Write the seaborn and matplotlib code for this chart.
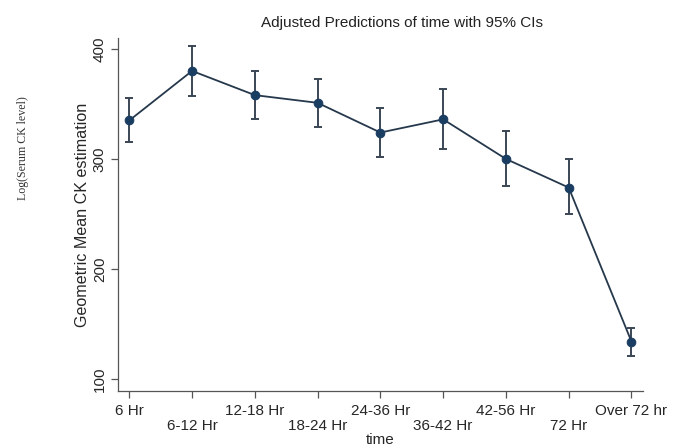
import numpy as np
import pandas as pd
import matplotlib
matplotlib.use("Agg")
import matplotlib.pyplot as plt
import seaborn as sns

sns.set_theme(style="white")
plt.rcParams.update(
    {
        "font.family": ["Liberation Sans", "DejaVu Sans"],
        "axes.spines.top": False,
        "axes.spines.right": False,
    }
)

# ── Data ──────────────────────────────────────────────────────────────────────
times = ["6 Hr", "6-12 Hr", "12-18 Hr", "18-24 Hr", "24-36 Hr",
         "36-42 Hr", "42-56 Hr", "72 Hr", "Over 72 hr"]
estimate = [335, 380, 358, 351, 324, 336, 300, 274, 134]
ci_low = [315, 357, 336, 329, 302, 309, 275, 250, 121]
ci_high = [355, 403, 380, 373, 346, 364, 325, 300, 146]

C_LINE = "#26384c"
C_MARK = "#1a3d62"
C_ERR = "#3a4654"

df = pd.DataFrame({"pos": np.arange(len(times)), "est": estimate,
                   "lo": ci_low, "hi": ci_high})

fig = plt.figure(figsize=(6.86, 4.46), dpi=100)
ax = fig.add_axes([0.172, 0.123, 0.765, 0.792])

ax.errorbar(
    df["pos"], df["est"],
    yerr=[df["est"] - df["lo"], df["hi"] - df["est"]],
    fmt="none", ecolor=C_ERR, elinewidth=1.4, capsize=3, capthick=1.4, zorder=2,
)
sns.lineplot(data=df, x="pos", y="est", ax=ax, color=C_LINE, linewidth=1.3,
             marker="o", markersize=6.2, markerfacecolor=C_MARK,
             markeredgecolor=C_MARK, zorder=3)

ax.set_xlim(-0.18, 8.18)
ax.set_ylim(89, 410)
ax.set_xticks(df["pos"])
ax.set_xticklabels([t if i % 2 == 0 else "\n" + t for i, t in enumerate(times)],
                   fontsize=11, linespacing=1.1)
ax.set_yticks([100, 200, 300, 400])
ax.set_yticklabels(["100", "200", "300", "400"], fontsize=11, rotation=90, va="center")
ax.tick_params(axis="x", which="major", length=5, width=0.9, color="#555555",
               bottom=True, pad=4)
ax.tick_params(axis="y", which="major", length=5, width=0.9, color="#555555",
               left=True, pad=3)
for s in ("left", "bottom"):
    ax.spines[s].set_color("#555555")
    ax.spines[s].set_linewidth(0.9)

ax.set_xlabel("time", fontsize=11, labelpad=0)
ax.set_ylabel("Geometric Mean CK estimation", fontsize=11.6, labelpad=2)
fig.text(0.586, 0.948, "Adjusted Predictions of time with 95% CIs",
         ha="center", va="center", fontsize=11, color="#222222")
fig.text(0.034, 0.668, "Log(Serum CK level)", rotation=90, ha="center", va="center",
         fontsize=8.6, family=["Liberation Serif", "DejaVu Serif"], color="#333333")

fig.savefig("out.png", dpi=100)
